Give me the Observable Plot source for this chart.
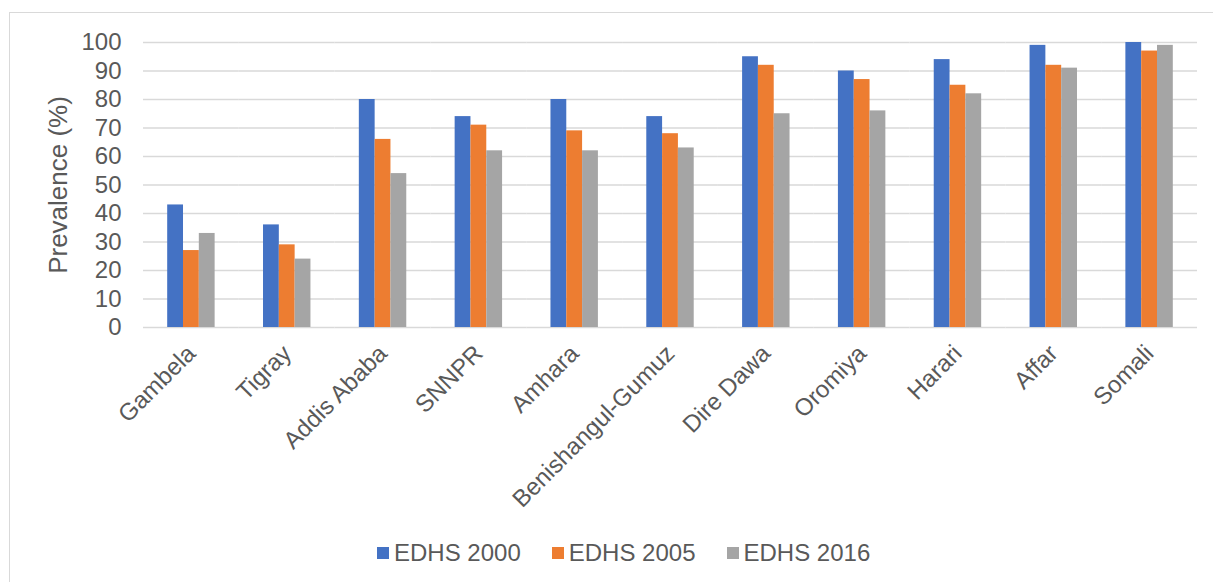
<!DOCTYPE html>
<html>
<head>
<meta charset="utf-8">
<script src="https://cdn.jsdelivr.net/npm/d3@7"></script>
<script src="https://cdn.jsdelivr.net/npm/@observablehq/plot@0.6"></script>
<style>
  html, body { margin: 0; padding: 0; overflow: hidden; background: #fff; }
  #wrap { position: relative; width: 1213px; height: 582px; overflow: hidden;
          font-family: "Liberation Sans", Arial, sans-serif; color: #595959; }
  #frame { position: absolute; left: 9px; top: 12px; width: 1260px; height: 640px;
           border: 1.5px solid #d9d9d9; box-sizing: border-box; }
  #chart { position: absolute; left: 0; top: 0; }
  #legend { position: absolute; left: 377px; top: 539px; display: flex; align-items: center;
            font-size: 24px; white-space: nowrap; }
  .item { display: flex; align-items: center; margin-right: 31px; }
  .swatch { width: 12px; height: 12px; margin-right: 5px; }
</style>
</head>
<body>
<div id="wrap">
  <div id="frame"></div>
  <div id="chart"></div>
  <div id="legend"></div>
</div>
<script>
// Regions, ordered as on the axis
const regions = ["Gambela", "Tigray", "Addis Ababa", "SNNPR", "Amhara", "Benishangul-Gumuz",
                 "Dire Dawa", "Oromiya", "Harari", "Affar", "Somali"];

// Survey rounds
const series = ["EDHS 2000", "EDHS 2005", "EDHS 2016"];

// Prevalence (%) by region for each survey round
const edhs2000 = [43, 36, 80, 74, 80, 74, 95, 90, 94, 99, 100];
const edhs2005 = [27, 29, 66, 71, 69, 68, 92, 87, 85, 92, 97];
const edhs2016 = [33, 24, 54, 62, 62, 63, 75, 76, 82, 91, 99];

// Y axis tick values
const yTicks = [0, 10, 20, 30, 40, 50, 60, 70, 80, 90, 100];

const colors = ["#4472C4", "#ED7D31", "#A5A5A5"];
const ink = "#595959";

const values = [edhs2000, edhs2005, edhs2016];
const rows = regions.flatMap((region, i) =>
  series.map((s, j) => ({region, series: s, value: values[j][i]}))
);

const chart = Plot.plot({
  width: 1213,
  height: 582,
  marginTop: 42,
  marginBottom: 255,
  marginLeft: 143,
  marginRight: 16,
  style: {fontFamily: '"Liberation Sans", Arial, sans-serif', fontSize: "24px", color: ink, background: "transparent"},
  fx: {domain: regions, padding: 0, round: false, label: null, tickRotate: -45, tickSize: 0, tickPadding: 22},
  x: {domain: series, paddingInner: 0, paddingOuter: 1.53, round: false, axis: null},
  y: {domain: [0, 100], ticks: yTicks, tickSize: 0, tickPadding: 22, label: null},
  color: {domain: series, range: colors},
  marks: [
    Plot.gridY(yTicks, {stroke: "#d9d9d9", strokeOpacity: 1, strokeWidth: 1.5}),
    Plot.barY(rows, {fx: "region", x: "series", y: "value", fill: "series"}),
    Plot.text(["Prevalence (%)"], {
      fx: [regions[0]], text: d => d, frameAnchor: "left", textAnchor: "middle",
      rotate: -90, dx: -85, fontSize: 26, fill: ink
    })
  ]
});
document.getElementById("chart").appendChild(chart);

// Legend below the plot
const legend = d3.select("#legend");
series.forEach((s, i) => {
  const item = legend.append("div").attr("class", "item");
  item.append("div").attr("class", "swatch").style("background", colors[i]);
  item.append("span").text(s);
});
</script>
</body>
</html>
